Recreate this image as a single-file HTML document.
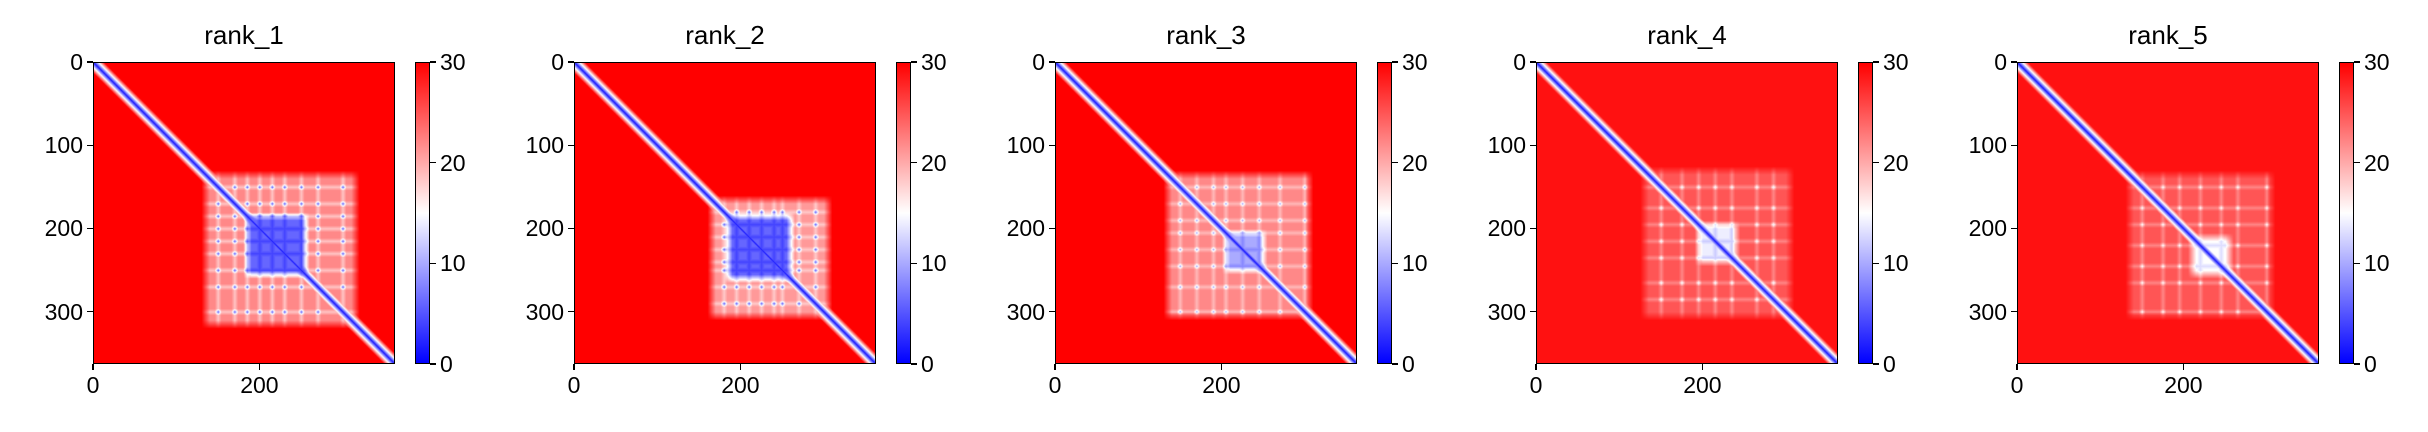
<!DOCTYPE html>
<html><head><meta charset="utf-8"><style>
body{margin:0;background:#fff;width:2428px;height:432px;overflow:hidden;position:relative;font-family:"Liberation Sans","DejaVu Sans",sans-serif;color:#000}
.t{position:absolute;font-size:23px;line-height:23px;white-space:nowrap}
.title{position:absolute;font-size:26px;line-height:26px;white-space:nowrap;transform:translateX(-50%)}
canvas{position:absolute}
.box{position:absolute;border:1.3px solid #000;box-sizing:border-box}
.tk{position:absolute;background:#000}
</style></head><body>
<script>
const titles=["rank_1","rank_2","rank_3","rank_4","rank_5"];
const nRes=363;
const baseVal=[30,30,30,29,29];
const domainBox=[[140,310,22],[170,300,21],[140,300,22],[135,300,25],[140,300,25]];
const coreBox=[[190,250,4],[190,255,4],[210,245,8],[200,235,12],[215,250,13]];
const stripeRes=[[150,170,185,200,215,230,250,270,300],[180,195,210,225,240,250,270,290],[150,170,190,205,225,245,270,300],[150,175,195,215,235,265,285],[150,175,195,220,245,265,300,340]];
const stripeVal=[17,17,18,21,21];
const dotVal=[6,6,10,14,15];
const yTicks=[0,100,200,300];
const xTicks=[0,200];
const cbTicks=[0,10,20,30];
const vmax=30;
const L0=93,T0=62,S=302,DX=481,CBOFF=322,CBW=15;
function sc(v){return v/nRes*S;}
function bwr(v){let t=Math.max(0,Math.min(1,v/vmax));
 if(t<0.5){let a=t/0.5;return [Math.round(255*a),Math.round(255*a),255];}
 let a=(t-0.5)/0.5;return [255,Math.round(255*(1-a)),Math.round(255*(1-a))];}
function soft(i,a,b){const w=10;if(i<a-w||i>b+w)return 0;if(i<a)return (i-a+w)/w;if(i>b)return (b+w-i)/w;return 1;}
function near(i,list){let m=0;for(const s of list){const d=Math.abs(i-s);if(d<4)m=Math.max(m,1-d/4);}return m;}
for(let p=0;p<5;p++){
 const L=L0+p*DX;
 const tt=document.createElement('div');tt.className='title';tt.textContent=titles[p];tt.style.left=(L+S/2)+'px';tt.style.top='22px';
 
 
 document.body.appendChild(tt);
 const c=document.createElement('canvas');c.width=nRes;c.height=nRes;c.style.left=L+'px';c.style.top=T0+'px';c.style.width=S+'px';c.style.height=S+'px';
 
 
 document.body.appendChild(c);
 const ctx=c.getContext('2d');const img=ctx.createImageData(nRes,nRes);
 const db=domainBox[p],cb=coreBox[p],st=stripeRes[p];
 const nr=[];for(let i=0;i<nRes;i++)nr.push(near(i,st));
 for(let i=0;i<nRes;i++)for(let j=0;j<nRes;j++){
  let v=baseVal[p];
  const d=Math.abs(i-j);v=Math.min(v,1.5+d*2.2);
  const fd=soft(i,db[0],db[1])*soft(j,db[0],db[1]);
  let dv=db[2];
  const si=nr[i],sj=nr[j];
  dv=dv-(dv-stripeVal[p])*Math.max(si,sj)*0.7;
  dv=dv-(dv-dotVal[p])*si*sj;
  v=v-(v-Math.min(v,dv))*fd;
  const fc=soft(i,cb[0],cb[1])*soft(j,cb[0],cb[1]);
  let cv=cb[2]+(1-Math.max(si,sj))*2;
  v=v-(v-Math.min(v,cv))*fc;
  const col=bwr(v);const k=(i*nRes+j)*4;
  img.data[k]=col[0];img.data[k+1]=col[1];img.data[k+2]=col[2];img.data[k+3]=255;}
 ctx.putImageData(img,0,0);
 const b=document.createElement('div');b.className='box';b.style.left=L+'px';b.style.top=T0+'px';b.style.width=S+'px';b.style.height=S+'px';
 
 
 document.body.appendChild(b);
 yTicks.forEach(v=>{const y=T0+sc(v);
  const k=document.createElement('div');k.className='tk';k.style.left=(L-6)+'px';k.style.top=(y-0.6)+'px';k.style.width='6px';k.style.height='1.3px';
  
  
  document.body.appendChild(k);
  const l=document.createElement('div');l.className='t';l.textContent=v;l.style.right=(2428-(L-10))+'px';l.style.top=(y-11)+'px';
  
  
  document.body.appendChild(l);});
 xTicks.forEach(v=>{const x=L+sc(v);
  const k=document.createElement('div');k.className='tk';k.style.left=(x-0.6)+'px';k.style.top=(T0+S)+'px';k.style.width='1.3px';k.style.height='6px';
  
  
  document.body.appendChild(k);
  const l=document.createElement('div');l.className='t';l.textContent=v;l.style.left=x+'px';l.style.top=(T0+S+10)+'px';l.style.transform='translateX(-50%)';
  
  
  document.body.appendChild(l);});
 const cx=L+CBOFF;
 const cbar=document.createElement('div');cbar.className='box';cbar.style.left=cx+'px';cbar.style.top=T0+'px';cbar.style.width=CBW+'px';cbar.style.height=S+'px';
 cbar.style.background='linear-gradient(to top,#0000ff,#ffffff,#ff0000)';
 
 
 document.body.appendChild(cbar);
 cbTicks.forEach(v=>{const y=T0+S-v/vmax*S;
  const k=document.createElement('div');k.className='tk';k.style.left=(cx+CBW)+'px';k.style.top=(y-0.6)+'px';k.style.width='6px';k.style.height='1.3px';
  
  
  document.body.appendChild(k);
  const l=document.createElement('div');l.className='t';l.textContent=v;l.style.left=(cx+CBW+10)+'px';l.style.top=(y-11)+'px';
  
  
  document.body.appendChild(l);});
}
</script>
</body></html>
